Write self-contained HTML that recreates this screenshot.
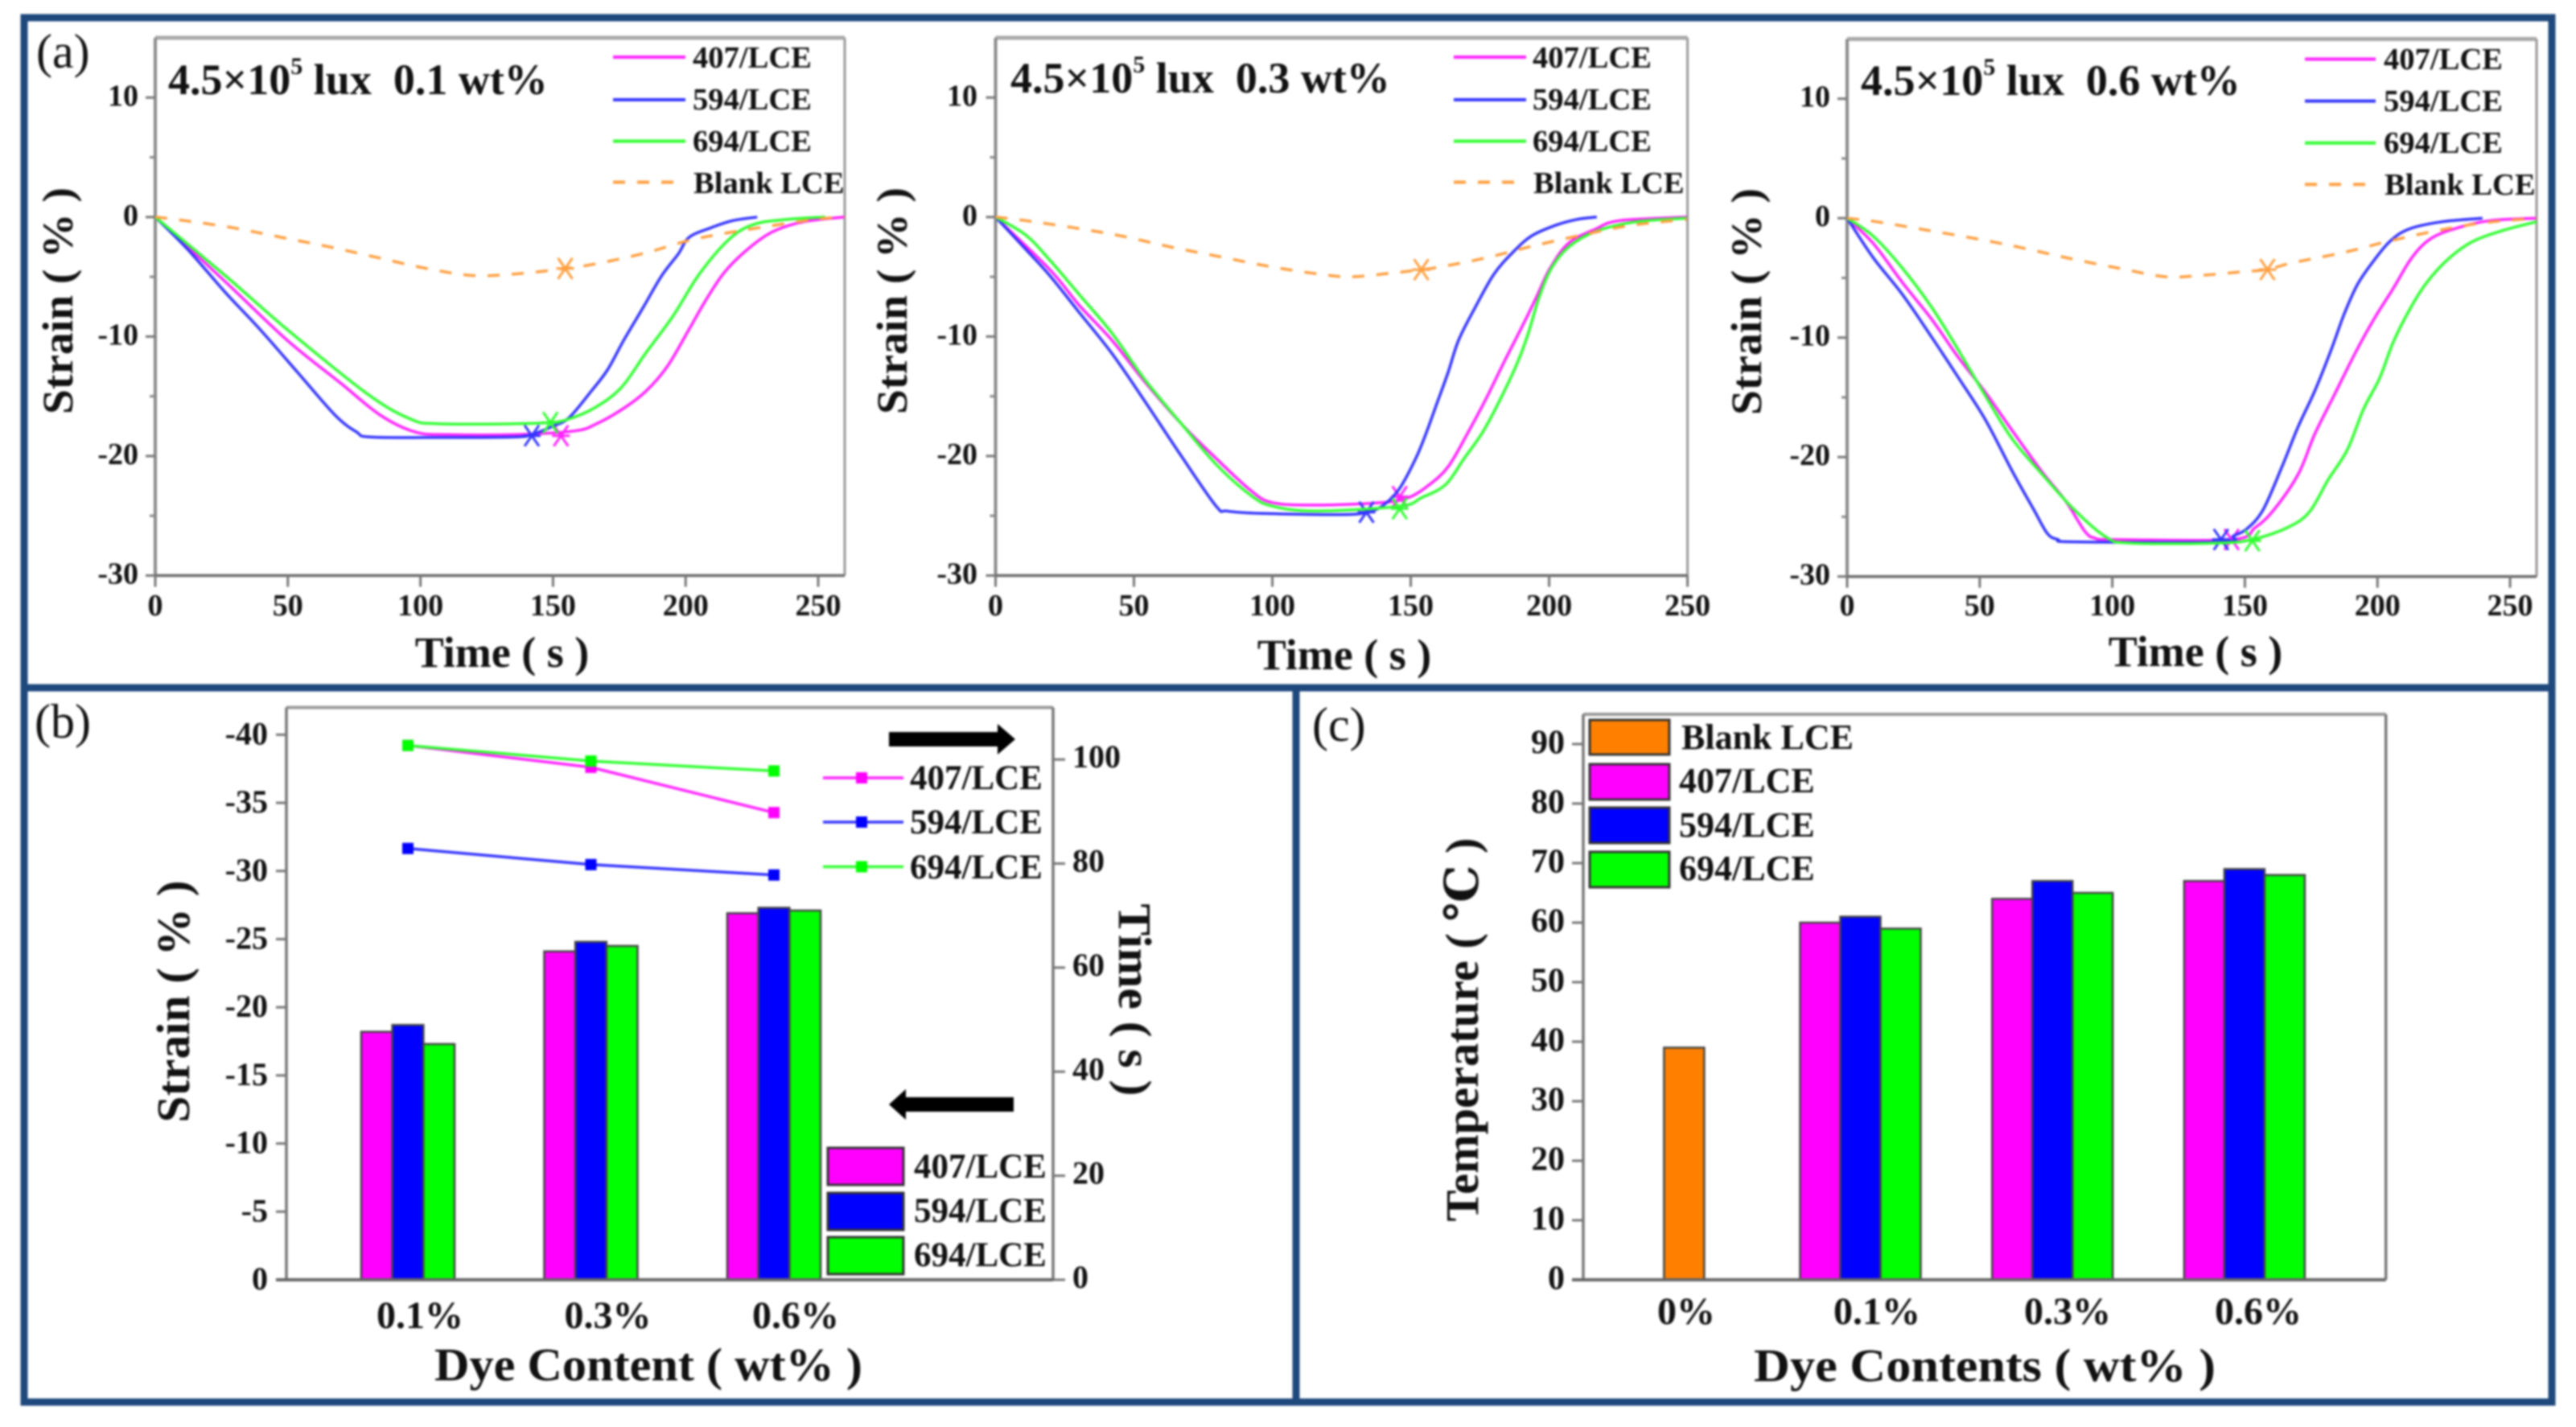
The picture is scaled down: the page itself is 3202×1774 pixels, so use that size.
<!DOCTYPE html>
<html>
<head>
<meta charset="utf-8">
<title>Strain, time and temperature of dye/LCE films</title>
<style>
html,body{margin:0;padding:0;background:#fff;width:3202px;height:1774px;overflow:hidden}
svg{display:block;filter:blur(1.2px)}
text{font-family:"Liberation Serif","DejaVu Serif","Noto Serif CJK SC",serif;font-weight:bold;fill:#111}
.lab{font-weight:normal;font-size:60px}
.leg{font-size:38.6px}
.legb{font-size:43px}
.legc{font-size:44px}
.ann{font-size:54px}
.ttl{font-size:54px}
.ttl2{font-size:58px}
</style>
</head>
<body>
<svg id="fig" xmlns="http://www.w3.org/2000/svg" width="3202" height="1774" viewBox="0 0 3202 1774">
  <g fill="none" stroke="#1f497d" stroke-width="9">
    <rect x="30" y="22" width="3142" height="1721"/>
    <line x1="26" y1="855" x2="3176" y2="855"/>
    <line x1="1611" y1="855" x2="1611" y2="1747"/>
  </g>

  <text class="lab" x="45" y="84">(a)</text>
  <text class="lab" x="43" y="917">(b)</text>
  <text class="lab" x="1631" y="921">(c)</text>

  <g id="a1"></g>
  <g id="a2"></g>
  <g id="a3"></g>
  <g id="b"></g>
  <g id="c"></g>

  <!-- Panel a1 text -->
  <text class="ann" x="209" y="117">4.5×10<tspan dy="-25" font-size="30">5</tspan><tspan dy="25"> lux&#160;&#160;0.1 wt%</tspan></text>
  <text class="ttl" x="624" y="829" text-anchor="middle">Time ( s )</text>
  <text class="ttl" transform="translate(90 374) rotate(-90)" text-anchor="middle" textLength="282" lengthAdjust="spacingAndGlyphs">Strain ( % )</text>
  <text class="leg" x="861" y="84">407/LCE</text>
  <text class="leg" x="861" y="136">594/LCE</text>
  <text class="leg" x="861" y="188">694/LCE</text>
  <text class="leg" x="862" y="240">Blank LCE</text>

  <!-- Panel a2 text -->
  <text class="ann" x="1256" y="115">4.5×10<tspan dy="-25" font-size="30">5</tspan><tspan dy="25"> lux&#160;&#160;0.3 wt%</tspan></text>
  <text class="ttl" x="1671" y="832" text-anchor="middle">Time ( s )</text>
  <text class="ttl" transform="translate(1127 374) rotate(-90)" text-anchor="middle" textLength="282" lengthAdjust="spacingAndGlyphs">Strain ( % )</text>
  <text class="leg" x="1905" y="84">407/LCE</text>
  <text class="leg" x="1905" y="136">594/LCE</text>
  <text class="leg" x="1905" y="188">694/LCE</text>
  <text class="leg" x="1906" y="240">Blank LCE</text>

  <!-- Panel a3 text -->
  <text class="ann" x="2313" y="118">4.5×10<tspan dy="-25" font-size="30">5</tspan><tspan dy="25"> lux&#160;&#160;0.6 wt%</tspan></text>
  <text class="ttl" x="2729" y="828" text-anchor="middle">Time ( s )</text>
  <text class="ttl" transform="translate(2189 375) rotate(-90)" text-anchor="middle" textLength="282" lengthAdjust="spacingAndGlyphs">Strain ( % )</text>
  <text class="leg" x="2963" y="86">407/LCE</text>
  <text class="leg" x="2963" y="138">594/LCE</text>
  <text class="leg" x="2963" y="190">694/LCE</text>
  <text class="leg" x="2964" y="242">Blank LCE</text>

  <!-- Panel b text -->
  <text class="ttl2" x="806" y="1716" text-anchor="middle" textLength="532" lengthAdjust="spacingAndGlyphs">Dye Content ( wt% )</text>
  <text class="ttl2" transform="translate(235 1245) rotate(-90)" text-anchor="middle" textLength="301" lengthAdjust="spacingAndGlyphs">Strain ( % )</text>
  <text class="ttl2" transform="translate(1391 1243) rotate(90)" text-anchor="middle" textLength="239" lengthAdjust="spacingAndGlyphs">Time ( s )</text>
  <text class="legb" x="1131" y="981">407/LCE</text>
  <text class="legb" x="1131" y="1036">594/LCE</text>
  <text class="legb" x="1131" y="1092">694/LCE</text>
  <text class="legb" x="1136" y="1464">407/LCE</text>
  <text class="legb" x="1136" y="1519">594/LCE</text>
  <text class="legb" x="1136" y="1574">694/LCE</text>
  <polygon points="1105,910 1240,910 1240,900 1262,919 1240,938 1240,928 1105,928" fill="#000"/>
  <polygon points="1260,1364 1126,1364 1126,1354 1105,1373 1126,1392 1126,1382 1260,1382" fill="#000"/>
  <g stroke="#333" stroke-width="3">
    <rect x="1029" y="1427" width="94" height="46" fill="#ff00ff"/>
    <rect x="1029" y="1483" width="94" height="46" fill="#0000ff"/>
    <rect x="1029" y="1538" width="94" height="46" fill="#00ff00"/>
  </g>

  <!-- Panel c text -->
  <text class="ttl2" x="2467" y="1717" text-anchor="middle" textLength="574" lengthAdjust="spacingAndGlyphs">Dye Contents ( wt% )</text>
  <text class="ttl2" transform="translate(1837 1280) rotate(-90)" text-anchor="middle" textLength="477" lengthAdjust="spacingAndGlyphs">Temperature ( ℃ )</text>
  <g stroke="#333" stroke-width="3">
    <rect x="1976" y="895" width="99" height="43" fill="#ff8000"/>
    <rect x="1976" y="950" width="99" height="44" fill="#ff00ff"/>
    <rect x="1976" y="1004" width="99" height="44" fill="#0000ff"/>
    <rect x="1976" y="1059" width="99" height="44" fill="#00ff00"/>
  </g>
  <text class="legc" x="2090" y="931">Blank LCE</text>
  <text class="legc" x="2087" y="985">407/LCE</text>
  <text class="legc" x="2087" y="1040">594/LCE</text>
  <text class="legc" x="2087" y="1094">694/LCE</text>
</svg>

<script>
// ---- Panel a, 0.1 wt% ----
const a1Time407 = [0,26.4,49.7,69.9,85,98.2,110.3,135.6,158.2,166.4,176.7,184.9,193.1,201.3,207.5,214.7,223.9,233.1,244.4,260];
const a1Strain407 = [0,-5.4,-10.3,-13.9,-16.6,-18,-18.2,-18.2,-17.9,-17.3,-16,-14.6,-12.5,-9.4,-7,-4.6,-2.6,-1.2,-0.4,0];
const a1Time594 = [0,12.2,26.4,39.5,53.7,67.9,76,81,107,135.6,141.8,150,156,164.3,170.5,176.7,183.9,191,197.2,201.3,209.5,217.7,227];
const a1Strain594 = [0,-2.7,-6.3,-9.4,-13,-16.6,-18,-18.4,-18.45,-18.4,-18.2,-17.5,-16.8,-14.6,-12.8,-10.3,-7.6,-4.9,-3.1,-1.7,-0.9,-0.3,0];
const a1Time694 = [0,26.4,49.7,80,96.2,106.3,135.6,149,156,165.4,175.6,184.9,195.2,205.4,216.7,226,238.3,252.6];
const a1Strain694 = [0,-4.9,-9.4,-14.8,-16.9,-17.3,-17.3,-17.2,-16.9,-16,-14.3,-11.4,-8.3,-4.7,-1.8,-0.6,-0.2,0];
const a1TimeBlank = [0,11.2,29.4,47.6,65.8,84,102.2,120.4,138.7,154.6,166.4,184.9,202.3,221.8,248.5,260];
const a1StrainBlank = [0,-0.3,-0.9,-1.7,-2.5,-3.4,-4.3,-4.9,-4.7,-4.3,-3.9,-3,-1.9,-1.1,-0.2,0];
const a1EndTime = [153,142,149,154.6];
const a1EndStrain = [-18.3,-18.3,-17.2,-4.3];

// ---- Panel a, 0.3 wt% ----
const a2Time407 = [0,19.6,30.3,42,53.6,67.1,79.7,92.3,100.1,115.6,139.2,149,156.7,163.5,170.3,177,183.8,190.6,195.4,200.3,207,216.8,225.5,249.7];
const a2Strain407 = [0,-4.4,-7.4,-10.3,-13.7,-17.3,-20.2,-22.9,-23.9,-24.1,-23.9,-23.5,-22.4,-20.9,-18.2,-15.3,-12.1,-9,-6.7,-4.3,-2.2,-1,-0.3,0];
const a2Time594 = [0,10.9,19.6,30.3,42,53.6,67.1,79.7,83.6,96.2,125,134.4,140.2,146,151.8,155.7,159.6,163.5,167.3,173.2,180,186.7,193.5,202.2,210,217.2];
const a2Strain594 = [0,-2.7,-4.9,-8,-11.4,-15.3,-20,-24.2,-24.6,-24.8,-24.9,-24.7,-24.1,-22.7,-20.2,-18,-15.5,-13,-10.3,-7.6,-4.8,-3,-1.6,-0.7,-0.2,0];
const a2Time694 = [0,10.9,19.6,30.3,42,53.6,67.1,79.7,92.3,100.1,115.6,146,153.8,162.5,169.3,176,182.9,188.7,192.5,196.4,200.8,207.1,216.8,231.3,249.7];
const a2Strain694 = [0,-1.5,-3.6,-6.5,-9.7,-13.5,-17.3,-20.7,-23.3,-24.2,-24.6,-24.2,-23.5,-22.4,-20.2,-18,-15,-12.1,-9.7,-6.7,-4.3,-2.5,-1.2,-0.4,-0.1];
const a2TimeBlank = [0,11,28.4,45.8,63.2,80.7,98.1,114.6,128,142.6,153.8,160,177.5,194.5,212,229.4,249.7];
const a2StrainBlank = [0,-0.3,-0.9,-1.6,-2.5,-3.3,-4.1,-4.7,-5,-4.7,-4.4,-4.2,-3.4,-2.4,-1.5,-0.7,-0.2];
const a2EndTime = [146,134,146,153.8];
const a2EndStrain = [-23.4,-24.7,-24.4,-4.4];

// ---- Panel a, 0.6 wt% ----
const a3Time407 = [0,9.8,20.9,32,42.1,52.2,62.3,73.4,82.5,89.6,93.6,100.7,145,153.9,161,170.2,176.3,183.5,191.6,198.8,205.9,213,220.2,230.4,242.6,260];
const a3Strain407 = [0,-2.1,-5.4,-8.5,-11.7,-14.6,-17.8,-21.2,-23.7,-26.2,-26.8,-26.9,-26.9,-25.9,-24.4,-21.4,-18.1,-14.9,-11.3,-8.4,-5.9,-3.3,-1.7,-0.8,-0.2,0];
const a3Time594 = [0,9.8,20.9,32,42.1,52.2,62.3,70.4,75.5,79.5,85.6,141,145.7,150.8,156.9,164,170.2,176.3,182.4,187.5,192.6,198.8,204.9,212,224.3,239.6];
const a3Strain594 = [0,-3.3,-6.4,-10,-13.4,-16.9,-21.2,-24.4,-26.4,-26.9,-27.1,-27.1,-26.6,-26,-24.4,-20.8,-17.4,-14.5,-11.1,-8,-5.5,-3.5,-1.9,-0.9,-0.3,0];
const a3Time694 = [0,9.8,20.9,32,42.1,52.2,62.3,73.4,85.6,97.7,106.8,140,152.8,166.1,174.3,181.4,188.6,194.7,200.8,205.9,212,218.2,226.3,235.5,247.7,260];
const a3Strain694 = [0,-1.5,-4.2,-7.5,-11.1,-14.9,-18.5,-21.4,-24.4,-26.7,-27.2,-27.2,-26.9,-25.9,-24.6,-21.9,-19.4,-16,-13.4,-10.4,-7.7,-5.5,-3.5,-2,-1,-0.3];
const a3TimeBlank = [0,11.3,30,48.2,66.4,84.5,102.7,119.9,133,148.3,158.5,166.6,184.5,194.2,202.8,221.2,239.6,260];
const a3StrainBlank = [0,-0.3,-1,-1.7,-2.5,-3.4,-4.2,-4.9,-4.8,-4.5,-4.3,-3.8,-3,-2.5,-2,-1.1,-0.4,0];
const a3EndTime = [145,141,152.8,158.5];
const a3EndStrain = [-26.9,-26.9,-27,-4.3];

const aXTicks = [0,50,100,150,200,250];
const aYTicks = [10,0,-10,-20,-30];
const aYMinorTicks = [5,-5,-15,-25];

// ---- Panel b ----
const bCategories = ['0.1%','0.3%','0.6%'];
const bStrain407 = [-18.2,-24.1,-26.9];
const bStrain594 = [-18.7,-24.8,-27.3];
const bStrain694 = [-17.3,-24.5,-27.1];
const bTime407 = [102.7,98.5,89.8];
const bTime594 = [82.9,79.8,77.8];
const bTime694 = [102.7,99.7,97.8];
const bLeftTicks = [0,-5,-10,-15,-20,-25,-30,-35,-40];
const bRightTicks = [0,20,40,60,80,100];

// ---- Panel c ----
const cCategories = ['0%','0.1%','0.3%','0.6%'];
const cTempBlank = [39];
const cTemp407 = [60,64,67];
const cTemp594 = [61,67,69];
const cTemp694 = [59,65,68];
const cTicks = [0,10,20,30,40,50,60,70,80,90];

// ---- Drawing helpers ----
const SVGNS = 'http://www.w3.org/2000/svg';
const MAG = '#ff22ff', BLU = '#3434ff', GRN = '#30ff30', ORG = '#ff9f40';

function mk(parent, tag, attrs) {
  const el = document.createElementNS(SVGNS, tag);
  for (const k in attrs) el.setAttribute(k, attrs[k]);
  parent.appendChild(el);
  return el;
}
function seg(parent, x1, y1, x2, y2, color, w) {
  return mk(parent, 'line', {x1:x1, y1:y1, x2:x2, y2:y2, stroke:color, 'stroke-width':w});
}
function label(parent, x, y, str, size, anchor) {
  const t = mk(parent, 'text', {x:x, y:y, 'font-size':size, 'text-anchor':anchor});
  t.textContent = str;
  return t;
}
function pts(xs, ys, fx, fy) {
  return xs.map(function (v, i) { return fx(v).toFixed(1) + ',' + fy(ys[i]).toFixed(1); }).join(' ');
}
// Smooth path through data points (Catmull-Rom to cubic Bezier)
function smooth(xs, ys, fx, fy) {
  const P = xs.map(function (v, i) { return [fx(v), fy(ys[i])]; });
  let d = 'M' + P[0][0].toFixed(1) + ' ' + P[0][1].toFixed(1);
  for (let i = 0; i < P.length - 1; i++) {
    const p0 = P[Math.max(i - 1, 0)], p1 = P[i], p2 = P[i + 1], p3 = P[Math.min(i + 2, P.length - 1)];
    const c1x = p1[0] + (p2[0] - p0[0]) / 6, c1y = p1[1] + (p2[1] - p0[1]) / 6;
    const c2x = p2[0] - (p3[0] - p1[0]) / 6, c2y = p2[1] - (p3[1] - p1[1]) / 6;
    d += 'C' + c1x.toFixed(1) + ' ' + c1y.toFixed(1) + ' ' + c2x.toFixed(1) + ' ' + c2y.toFixed(1) + ' ' + p2[0].toFixed(1) + ' ' + p2[1].toFixed(1);
  }
  return d;
}

function linePanel(id, cfg, series, endT, endS) {
  const root = document.getElementById(id);
  const xS = function (v) { return cfg.left + v / cfg.xMax * (cfg.right - cfg.left); };
  const yS = function (v) { return cfg.bottom - (v + 30) / 45 * (cfg.bottom - cfg.top); };

  const top = seg(root, cfg.left, cfg.top, cfg.right, cfg.top, '#a8a8a8', 5);
  
  
  const rgt = seg(root, cfg.right, cfg.top, cfg.right, cfg.bottom, '#999', 3);
  
  
  const lft = seg(root, cfg.left, cfg.top, cfg.left, cfg.bottom, '#8a8a8a', 4);
  
  
  const bot = seg(root, cfg.left, cfg.bottom, cfg.right, cfg.bottom, '#6a6a6a', 3.5);
  
  

  aXTicks.forEach(function (v) {
    const tk = seg(root, xS(v), cfg.bottom, xS(v), cfg.bottom + 14, '#777', 3);
    
    
    const lb = label(root, xS(v), 765, String(v), 38, 'middle');
    
    
  });
  aYTicks.forEach(function (v) {
    const tk = seg(root, cfg.left - 12, yS(v), cfg.left, yS(v), '#777', 3);
    
    
    const lb = label(root, cfg.labelX, yS(v) + 10, String(v), 38, 'end');
    
    
  });
  aYMinorTicks.forEach(function (v) {
    const tk = seg(root, cfg.left - 7, yS(v), cfg.left, yS(v), '#888', 3);
    
    
  });

  series.forEach(function (s, i) {
    const ln = mk(root, 'path', {d: smooth(s.t, s.v, xS, yS), fill:'none', stroke:s.color, 'stroke-width':3.5, 'stroke-linejoin':'round'});
    if (s.dash) ln.setAttribute('stroke-dasharray', '15 15');
    
    

    const cx = xS(endT[i]), cy = yS(endS[i]);
    const mark = mk(root, 'path', {
      d: 'M' + (cx - 9) + ' ' + (cy - 13) + 'L' + (cx + 9) + ' ' + (cy + 13) +
         'M' + (cx + 9) + ' ' + (cy - 13) + 'L' + (cx - 9) + ' ' + (cy + 13) +
         'M' + (cx - 11) + ' ' + cy + 'L' + (cx + 11) + ' ' + cy,
      fill:'none', stroke:s.color, 'stroke-width':3
    });
    
    

    const ly = cfg.legendY[i];
    const sw = seg(root, cfg.legX1, ly, cfg.legX2, ly, s.color, 4);
    if (s.dash) sw.setAttribute('stroke-dasharray', '15 15');
    
    
  });
}

linePanel('a1',
  {left:193, right:1050, top:47, bottom:715.5, xMax:260, labelX:172, legX1:762, legX2:852, legendY:[71,124,175.5,226.5]},
  [{name:'407', t:a1Time407, v:a1Strain407, color:MAG},
   {name:'594', t:a1Time594, v:a1Strain594, color:BLU},
   {name:'694', t:a1Time694, v:a1Strain694, color:GRN},
   {name:'blank', t:a1TimeBlank, v:a1StrainBlank, color:ORG, dash:true}], a1EndTime, a1EndStrain);

linePanel('a2',
  {left:1237.5, right:2097.6, top:47, bottom:715.5, xMax:250, labelX:1215, legX1:1807, legX2:1897, legendY:[71,124,175.5,226.5]},
  [{name:'407', t:a2Time407, v:a2Strain407, color:MAG},
   {name:'594', t:a2Time594, v:a2Strain594, color:BLU},
   {name:'694', t:a2Time694, v:a2Strain694, color:GRN},
   {name:'blank', t:a2TimeBlank, v:a2StrainBlank, color:ORG, dash:true}], a2EndTime, a2EndStrain);

linePanel('a3',
  {left:2296, right:3153, top:48.5, bottom:716.7, xMax:260, labelX:2275, legX1:2865, legX2:2953, legendY:[73.5,125.6,177.7,229.3]},
  [{name:'407', t:a3Time407, v:a3Strain407, color:MAG},
   {name:'594', t:a3Time594, v:a3Strain594, color:BLU},
   {name:'694', t:a3Time694, v:a3Strain694, color:GRN},
   {name:'blank', t:a3TimeBlank, v:a3StrainBlank, color:ORG, dash:true}], a3EndTime, a3EndStrain);

// ---- Panel b drawing ----
(function () {
  const root = document.getElementById('b');
  const L = 356, R = 1309, T = 879.5, B = 1591;
  const yL = function (v) { return B + v / 42 * (B - T); };
  const yR = function (v) { return B - v / 110 * (B - T); };
  const xC = function (i) { return 507 + 227.5 * i; };
  const bw = 38.7;

  const top = seg(root, L, T, R, T, '#999', 4);
  
  
  const lft = seg(root, L, T, L, B, '#777', 3.5);
  
  
  const rgt = seg(root, R, T, R, B, '#777', 3.5);
  
  

  bLeftTicks.forEach(function (v) {
    const tk = seg(root, L - 13, yL(v), L, yL(v), '#777', 3);
    
    
    const lb = label(root, 333, yL(v) + 12, String(v), 40, 'end');
    
    
  });
  bRightTicks.forEach(function (v) {
    const tk = seg(root, R, yR(v), R + 15, yR(v), '#777', 3);
    
    
    const lb = label(root, 1333, yR(v) + 10, String(v), 40, 'start');
    
    
  });

  const barSeries = [
    {name:'407', v:bStrain407, color:'#ff00ff', k:-1},
    {name:'594', v:bStrain594, color:'#0000ff', k:0},
    {name:'694', v:bStrain694, color:'#00ff00', k:1}
  ];
  barSeries.forEach(function (s) {
    s.v.forEach(function (val, i) {
      const x = xC(i) + s.k * bw - bw / 2;
      const r = mk(root, 'rect', {x:x, y:yL(val), width:bw, height:B - yL(val), fill:s.color, stroke:'#444', 'stroke-width':2.5});
      
      
    });
  });

  const bot = seg(root, 343, B, R, B, '#666', 4);
  
  

  const lineSeries = [
    {name:'407', v:bTime407, color:MAG, marker:'#ff00ff', ly:967},
    {name:'594', v:bTime594, color:BLU, marker:'#0000ff', ly:1022},
    {name:'694', v:bTime694, color:GRN, marker:'#00ff00', ly:1077.5}
  ];
  lineSeries.forEach(function (s) {
    const xs = s.v.map(function (_, i) { return i; });
    const ln = mk(root, 'polyline', {points: pts(xs, s.v, xC, yR), fill:'none', stroke:s.color, 'stroke-width':3.5});
    
    
    s.v.forEach(function (val, i) {
      const m = mk(root, 'rect', {x:xC(i) - 7, y:yR(val) - 7, width:14, height:14, fill:s.marker});
      
      
    });
    const sw = seg(root, 1023, s.ly, 1123, s.ly, s.color, 3.5);
    
    
    const sm = mk(root, 'rect', {x:1064, y:s.ly - 7, width:14, height:14, fill:s.marker});
    
    
  });

  bCategories.forEach(function (c, i) {
    const lb = label(root, 522 + 233.5 * i, 1651, c, 48, 'middle');
    
    
  });
})();

// ---- Panel c drawing ----
(function () {
  const root = document.getElementById('c');
  const L = 1968, R = 2965.7, T = 888, B = 1591;
  const yS = function (v) { return B - v / 95 * (B - T); };
  const xC = function (i) { return 2312.5 + 238.7 * (i - 1); };
  const bw = 50;

  const top = seg(root, L, T, R, T, '#999', 4);
  
  
  const rgt = seg(root, R, T, R, B, '#777', 3.5);
  
  
  const lft = seg(root, L, T, L, B, '#777', 3.5);
  
  

  cTicks.forEach(function (v) {
    const tk = seg(root, L - 14, yS(v), L, yS(v), '#777', 3);
    
    
    const lb = label(root, 1945, yS(v) + 11.5, String(v), 42, 'end');
    
    
  });

  cTempBlank.forEach(function (val) {
    const x = xC(0) + 19.6 - bw / 2;
    const r = mk(root, 'rect', {x:x, y:yS(val), width:bw, height:B - yS(val), fill:'#ff8000', stroke:'#444', 'stroke-width':2.5});
    
    
  });
  const barSeries = [
    {name:'407', v:cTemp407, color:'#ff00ff', k:-1},
    {name:'594', v:cTemp594, color:'#0000ff', k:0},
    {name:'694', v:cTemp694, color:'#00ff00', k:1}
  ];
  barSeries.forEach(function (s) {
    s.v.forEach(function (val, i) {
      const x = xC(i + 1) + s.k * bw - bw / 2;
      const r = mk(root, 'rect', {x:x, y:yS(val), width:bw, height:B - yS(val), fill:s.color, stroke:'#444', 'stroke-width':2.5});
      
      
    });
  });

  const bot = seg(root, 1954, B, R, B, '#666', 4);
  
  

  cCategories.forEach(function (c, i) {
    const lb = label(root, 2096 + 237 * i, 1646, c, 48, 'middle');
    
    
  });
})();
</script>
</body>
</html>
